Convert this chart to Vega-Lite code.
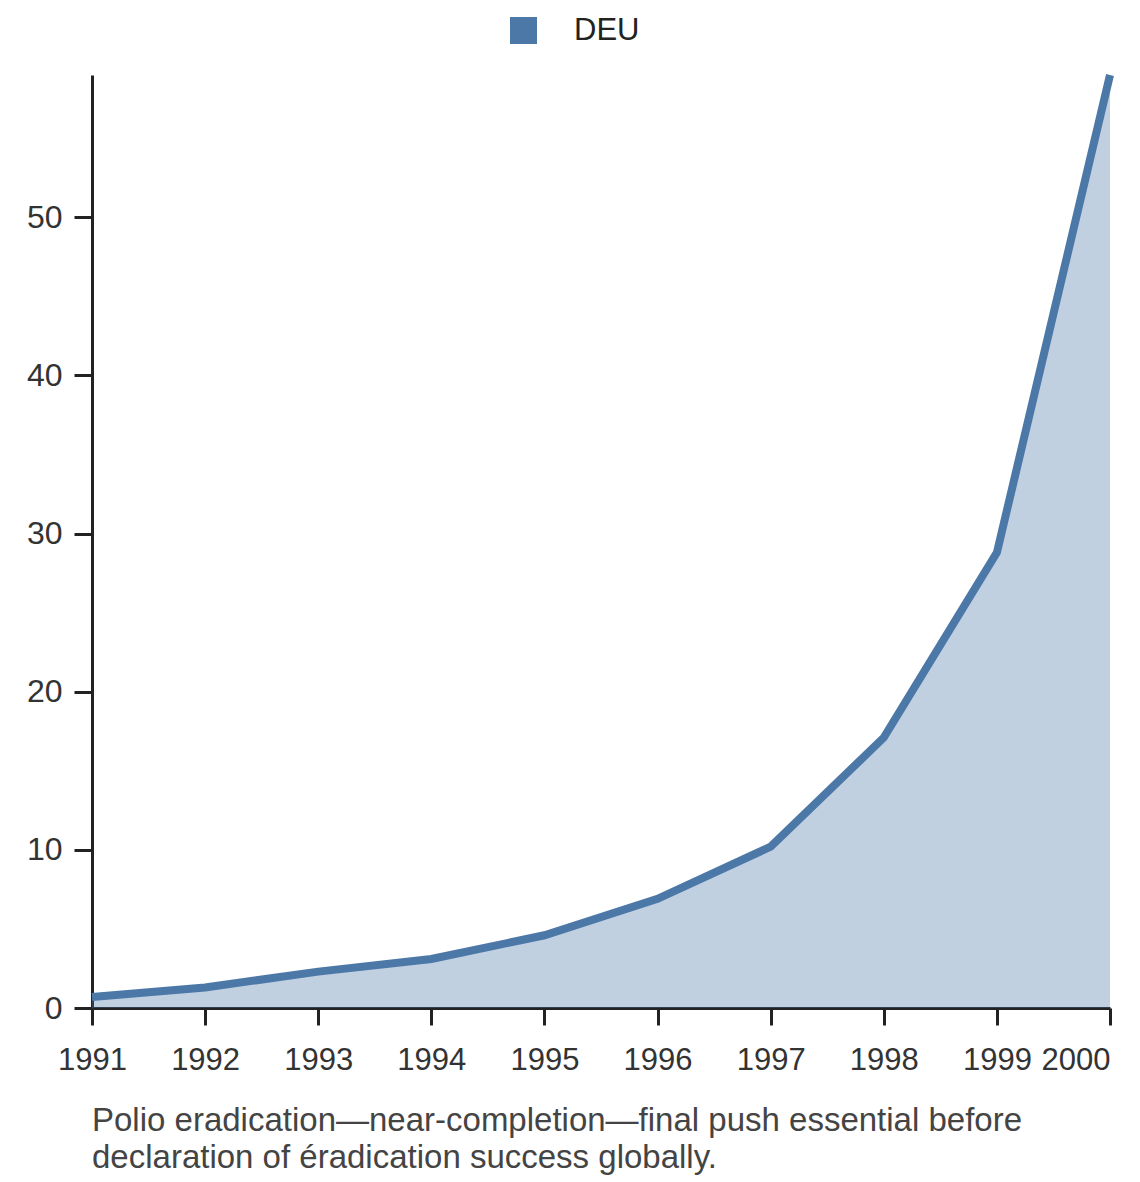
{
  "$schema": "https://vega.github.io/schema/vega-lite/v6.json",
  "autosize": "none",
  "width": 1018,
  "height": 933,
  "padding": {"left": 92, "top": 75, "right": 30, "bottom": 174},
  "background": "white",
  "config": {
    "font": "Liberation Sans",
    "view": {"stroke": null}
  },
  "data": {
    "values": [
      {"year": 1991, "value": 0.7, "country": "DEU"},
      {"year": 1992, "value": 1.3, "country": "DEU"},
      {"year": 1993, "value": 2.3, "country": "DEU"},
      {"year": 1994, "value": 3.1, "country": "DEU"},
      {"year": 1995, "value": 4.6, "country": "DEU"},
      {"year": 1996, "value": 6.9, "country": "DEU"},
      {"year": 1997, "value": 10.2, "country": "DEU"},
      {"year": 1998, "value": 17.1, "country": "DEU"},
      {"year": 1999, "value": 28.8, "country": "DEU"},
      {"year": 2000, "value": 59.0, "country": "DEU"}
    ]
  },
  "title": {
    "text": ["Polio eradication—near-completion—final push essential before", "declaration of éradication success globally."],
    "orient": "bottom",
    "anchor": "start",
    "frame": "group",
    "offset": 30,
    "fontSize": 33,
    "fontWeight": "normal",
    "lineHeight": 37,
    "color": "#444444",
    "font": "Liberation Sans"
  },
  "encoding": {
    "x": {
      "field": "year",
      "type": "quantitative",
      "scale": {"domain": [1991, 2000], "nice": false, "zero": false},
      "axis": {
        "title": null,
        "values": [1991, 1992, 1993, 1994, 1995, 1996, 1997, 1998, 1999, 2000],
        "format": "d",
        "grid": false,
        "labelFontSize": 31,
        "labelColor": "#333333",
        "labelPadding": 20,
        "labelAlign": {"expr": "datum.value == 2000 ? 'right' : 'center'"},
        "labelOverlap": false,
        "labelFlush": false,
        "tickSize": 17,
        "tickWidth": 3,
        "tickColor": "#222222",
        "domainColor": "#222222",
        "domainWidth": 3
      }
    },
    "y": {
      "field": "value",
      "type": "quantitative",
      "scale": {"domain": [0, 59], "nice": false},
      "axis": {
        "title": null,
        "values": [0, 10, 20, 30, 40, 50],
        "grid": false,
        "labelFontSize": 32,
        "labelColor": "#333333",
        "labelPadding": 12,
        "tickSize": 18,
        "tickWidth": 3,
        "tickColor": "#222222",
        "domainColor": "#222222",
        "domainWidth": 3
      }
    }
  },
  "layer": [
    {
      "mark": {"type": "area", "color": "#4c78a8", "opacity": 0.35},
      "encoding": {}
    },
    {
      "mark": {"type": "line", "strokeWidth": 8, "strokeCap": "butt"},
      "encoding": {
        "color": {
          "field": "country",
          "type": "nominal",
          "scale": {"range": ["#4c78a8"]},
          "legend": {
            "title": null,
            "orient": "none",
            "legendX": 416,
            "legendY": -60,
            "symbolType": "square",
            "symbolSize": 729,
            "symbolFillColor": "#4c78a8",
            "symbolStrokeWidth": 0,
            "symbolOpacity": 1,
            "labelFontSize": 31,
            "labelColor": "#222222",
            "labelOffset": 35
          }
        }
      }
    }
  ]
}
